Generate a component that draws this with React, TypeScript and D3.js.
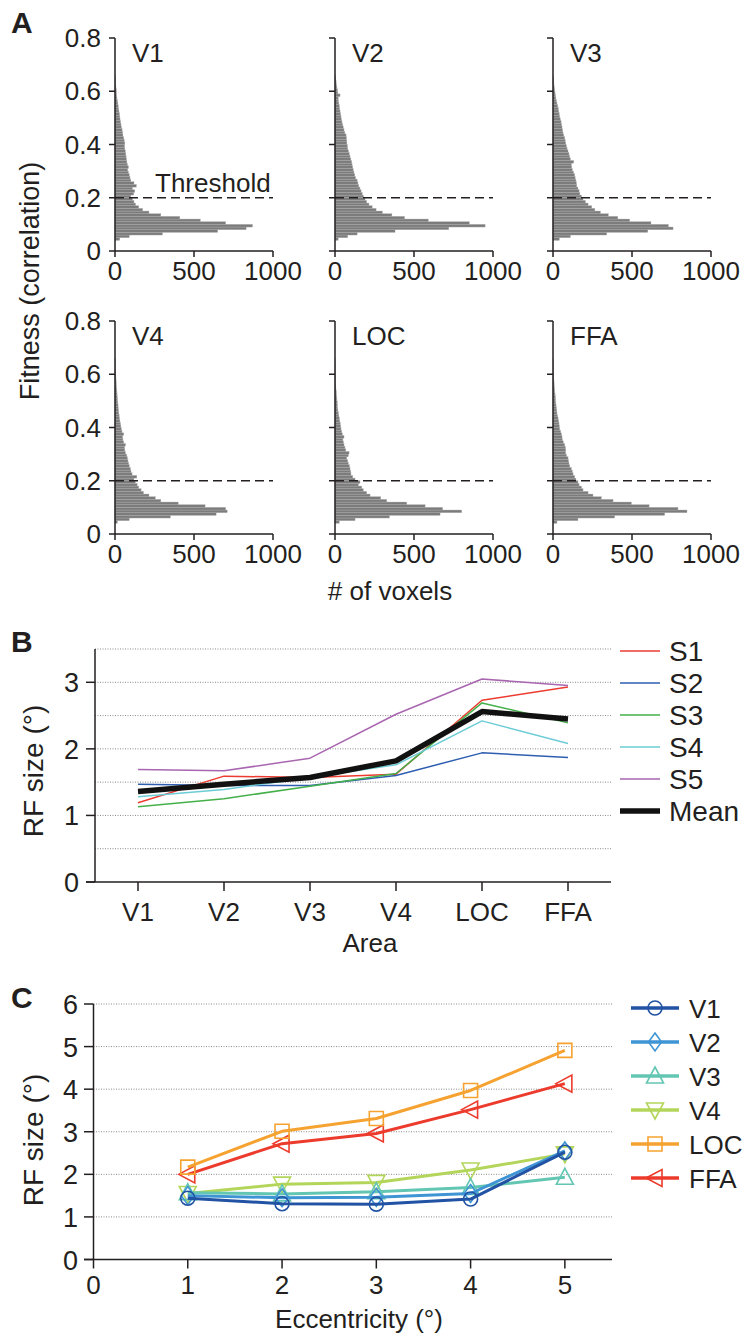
import React from "react";
import * as d3 from "d3";

const W = 744;
const H = 1335;
const FONT = "'Liberation Sans', Arial, Helvetica, sans-serif";
const INK = "#231f20";

// ---- panel A: fitness histograms (bins of 0.01 starting at 0.04) ----
const BIN_LO = 0.04;
const BIN_W = 0.01;

const V1_COUNTS = [
  30, 90, 300, 650, 830, 870, 700, 540, 410, 290, 215, 175, 150, 130, 120, 110,
  100, 118, 125, 110, 135, 120, 100, 95, 90, 85, 80, 85, 78, 75, 72, 70, 68, 65,
  62, 60, 62, 58, 55, 50, 48, 45, 40, 38, 35, 32, 30, 28, 25, 22, 20, 18, 15, 12,
  10, 9, 8, 6, 5, 4, 3, 2,
];
const V2_COUNTS = [
  20, 80, 140, 380, 720, 950, 850, 590, 440, 360, 300, 260, 235, 215, 200, 190,
  180, 172, 165, 158, 150, 145, 140, 130, 125, 120, 115, 112, 108, 105, 100, 95,
  90, 85, 80, 78, 75, 74, 72, 70, 62, 57, 52, 48, 44, 40, 38, 35, 32, 29, 27, 24,
  21, 20, 32, 18, 15, 12, 9, 7, 5, 3,
];
const V3_COUNTS = [
  40, 110, 340, 600, 760, 730, 620, 485, 410, 350, 300, 265, 245, 222, 205, 190,
  180, 170, 165, 158, 150, 148, 145, 140, 137, 130, 122, 118, 116, 131, 110, 105,
  101, 95, 89, 84, 80, 77, 74, 68, 63, 60, 57, 54, 51, 46, 42, 39, 36, 33, 30, 25,
  21, 18, 15, 13, 11, 8, 6, 5, 4, 2,
];
const V4_COUNTS = [
  15, 90, 350, 640, 710, 700, 570, 400, 290, 255, 215, 180, 165, 150, 140, 128,
  120, 138, 108, 101, 97, 90, 86, 82, 78, 74, 66, 62, 60, 66, 55, 50, 48, 55, 44,
  40, 37, 34, 31, 28, 26, 24, 22, 20, 19, 17, 16, 14, 13, 12, 11, 9, 8, 7, 6, 5,
  5, 4, 3, 3, 2, 2,
];
const LOC_COUNTS = [
  27, 127, 344, 665, 802, 681, 570, 454, 327, 289, 222, 200, 179, 169, 148, 158,
  127, 112, 101, 99, 95, 91, 84, 80, 74, 84, 89, 68, 63, 57, 53, 50, 57, 46, 42,
  38, 36, 33, 30, 27, 24, 21, 18, 15, 15, 14, 12, 11, 9, 8, 6, 5, 4, 4, 3, 3, 2,
  2, 2, 2, 1, 1,
];
const FFA_COUNTS = [
  25, 158, 390, 707, 848, 791, 608, 496, 380, 306, 253, 222, 190, 180, 165, 158,
  145, 137, 127, 122, 116, 106, 101, 98, 95, 85, 80, 80, 78, 74, 65, 59, 57, 53,
  48, 42, 40, 38, 35, 32, 28, 25, 23, 21, 19, 17, 16, 15, 13, 11, 10, 8, 7, 6, 5,
  4, 4, 3, 3, 2, 2, 1,
];
const HIST_LABELS = ["V1", "V2", "V3", "V4", "LOC", "FFA"];
const HIST_COUNTS = [V1_COUNTS, V2_COUNTS, V3_COUNTS, V4_COUNTS, LOC_COUNTS, FFA_COUNTS];
const FIT_TICKS = [0, 0.2, 0.4, 0.6, 0.8];
const FIT_TICK_LABELS = ["0", "0.2", "0.4", "0.6", "0.8"];
const VOXEL_TICKS = [0, 500, 1000];
const THRESHOLD = 0.2;

// ---- panel B: RF size by area ----
const AREAS = ["V1", "V2", "V3", "V4", "LOC", "FFA"];
const S1 = [1.19, 1.59, 1.57, 1.62, 2.73, 2.93];
const S2 = [1.47, 1.45, 1.45, 1.6, 1.94, 1.87];
const S3 = [1.13, 1.25, 1.44, 1.63, 2.69, 2.39];
const S4 = [1.28, 1.39, 1.57, 1.76, 2.42, 2.08];
const S5 = [1.69, 1.67, 1.86, 2.52, 3.05, 2.95];
const MEAN = [1.36, 1.47, 1.57, 1.82, 2.56, 2.45];
const SUBJECT_NAMES = ["S1", "S2", "S3", "S4", "S5", "Mean"];
const SUBJECT_VALUES = [S1, S2, S3, S4, S5, MEAN];
const SUBJECT_COLORS = ["#ec3b30", "#2e5eb0", "#44b04a", "#6cccd6", "#a966b0", "#111111"];
const B_TICKS = [0, 1, 2, 3];
const B_GRID = [0.5, 1, 1.5, 2, 2.5, 3, 3.5];

// ---- panel C: RF size by eccentricity ----
const ECC = [1, 2, 3, 4, 5];
const C_V1 = [1.44, 1.31, 1.3, 1.42, 2.52];
const C_V2 = [1.5, 1.45, 1.46, 1.55, 2.55];
const C_V3 = [1.57, 1.54, 1.59, 1.69, 1.93];
const C_V4 = [1.55, 1.77, 1.81, 2.1, 2.48];
const C_LOC = [2.17, 3.01, 3.31, 3.97, 4.91];
const C_FFA = [2.0, 2.72, 2.96, 3.52, 4.13];
const C_NAMES = ["V1", "V2", "V3", "V4", "LOC", "FFA"];
const C_VALUES = [C_V1, C_V2, C_V3, C_V4, C_LOC, C_FFA];
const C_COLORS = ["#2152a3", "#3f95d4", "#63c6b2", "#b3d65a", "#f6a230", "#ec3b2c"];
const C_MARKERS = ["circle", "diamond", "up", "down", "square", "left"];
const C_XTICKS = [0, 1, 2, 3, 4, 5];
const C_YTICKS = [0, 1, 2, 3, 4, 5, 6];
const C_GRID = [1, 2, 3, 4, 5, 6];

function markerPath(kind: string) {
  switch (kind) {
    case "circle":
      return "M7,0A7,7 0 1,1 -7,0A7,7 0 1,1 7,0Z";
    case "diamond":
      return "M0,-9L6.5,0L0,9L-6.5,0Z";
    case "up":
      return "M0,-9L8.5,7L-8.5,7Z";
    case "down":
      return "M0,9L8.5,-7L-8.5,-7Z";
    case "square":
      return "M-7,-7H7V7H-7Z";
    default:
      return "M-9,0L7,-8.5L7,8.5Z";
  }
}

function Hist({ x0, y0, counts, label, showYLabels, showThreshold }: any) {
  const x = d3.scaleLinear().domain([0, 1000]).range([x0, x0 + 158]);
  const y = d3.scaleLinear().domain([0, 0.8]).range([y0, y0 - 213]);
  return (
    <g>
      {counts.map((c: number, i: number) => {
        const lo = BIN_LO + i * BIN_W;
        return (
          <rect
            key={i}
            x={x(0)}
            y={y(lo + BIN_W)}
            width={x(c) - x(0)}
            height={y(lo) - y(lo + BIN_W)}
            fill="#7c7c7c"
            stroke="#ababab"
            strokeWidth={0.4}
          />
        );
      })}
      <line
        x1={x(0)}
        x2={x(1000)}
        y1={y(THRESHOLD)}
        y2={y(THRESHOLD)}
        stroke={INK}
        strokeWidth={1.6}
        strokeDasharray="9,5"
      />
      <line x1={x(0)} x2={x(0)} y1={y(0)} y2={y(0.8)} stroke={INK} strokeWidth={1.5} />
      <line x1={x(0)} x2={x(1000)} y1={y(0)} y2={y(0)} stroke={INK} strokeWidth={1.5} />
      {FIT_TICKS.map((t, i) => (
        <g key={t}>
          <line x1={x(0) - 6} x2={x(0)} y1={y(t)} y2={y(t)} stroke={INK} strokeWidth={1.5} />
          {showYLabels && (
            <text x={x(0) - 14} y={y(t) + 9} textAnchor="end" fontSize={26}>
              {FIT_TICK_LABELS[i]}
            </text>
          )}
        </g>
      ))}
      {VOXEL_TICKS.map((t) => (
        <g key={t}>
          <line x1={x(t)} x2={x(t)} y1={y(0)} y2={y(0) + 6} stroke={INK} strokeWidth={1.5} />
          <text x={x(t)} y={y(0) + 29} textAnchor="middle" fontSize={26}>
            {t}
          </text>
        </g>
      ))}
      <text x={x(0) + 17} y={y(0.8) + 24} fontSize={26}>
        {label}
      </text>
      {showThreshold && (
        <text x={x(0) + 40} y={y(THRESHOLD) - 6} fontSize={26}>
          Threshold
        </text>
      )}
    </g>
  );
}

export default function App() {
  const histX0 = [115, 335, 553];
  const histY0 = [251, 534];

  // panel B scales
  const xB = d3.scalePoint<string>().domain(AREAS).range([95, 611]).padding(0.5);
  const yB = d3.scaleLinear().domain([0, 3.5]).range([882, 649]);
  const lineB = d3
    .line<number>()
    .x((_, i) => xB(AREAS[i]) as number)
    .y((d) => yB(d));

  // panel C scales
  const xC = d3.scaleLinear().domain([0, 5.5]).range([93.5, 612]);
  const yC = d3.scaleLinear().domain([0, 6]).range([1259.5, 1004]);
  const lineC = d3
    .line<number>()
    .x((_, i) => xC(ECC[i]))
    .y((d) => yC(d));

  return (
    <svg
      width={W}
      height={H}
      style={{ position: "absolute", left: 0, top: 0, background: "#fff" }}
      fontFamily={FONT}
      fill={INK}
    >
      {/* ---------- A ---------- */}
      <text x={11} y={33} fontSize={30} fontWeight="bold">A</text>
      {HIST_COUNTS.map((counts, i) => (
        <Hist
          key={i}
          x0={histX0[i % 3]}
          y0={histY0[Math.floor(i / 3)]}
          counts={counts}
          label={HIST_LABELS[i]}
          showYLabels={i % 3 === 0}
          showThreshold={i === 0}
        />
      ))}
      <text transform="translate(39,281) rotate(-90)" textAnchor="middle" fontSize={27}>
        Fitness (correlation)
      </text>
      <text x={390} y={600} textAnchor="middle" fontSize={26}>
        # of voxels
      </text>

      {/* ---------- B ---------- */}
      <text x={11} y={652} fontSize={30} fontWeight="bold">B</text>
      {B_GRID.map((g) => (
        <line
          key={g}
          x1={95}
          x2={611}
          y1={yB(g)}
          y2={yB(g)}
          stroke="#8a8a8a"
          strokeWidth={1}
          strokeDasharray="1,1.5"
        />
      ))}
      <line x1={95} x2={95} y1={yB(0)} y2={yB(3.5)} stroke={INK} strokeWidth={1.5} />
      <line x1={86} x2={611} y1={yB(0)} y2={yB(0)} stroke={INK} strokeWidth={1.5} />
      {B_TICKS.map((t) => (
        <g key={t}>
          <line x1={86} x2={95} y1={yB(t)} y2={yB(t)} stroke={INK} strokeWidth={1.5} />
          <text x={79} y={yB(t) + 10} textAnchor="end" fontSize={27}>
            {t}
          </text>
        </g>
      ))}
      {AREAS.map((a) => (
        <g key={a}>
          <line
            x1={xB(a)}
            x2={xB(a)}
            y1={yB(0)}
            y2={yB(0) + 9}
            stroke={INK}
            strokeWidth={1.5}
          />
          <text x={xB(a)} y={921} textAnchor="middle" fontSize={26}>
            {a}
          </text>
        </g>
      ))}
      <text x={370} y={952} textAnchor="middle" fontSize={26}>
        Area
      </text>
      <text transform="translate(43,771) rotate(-90)" textAnchor="middle" fontSize={28}>
        RF size (°)
      </text>
      {SUBJECT_VALUES.map((vals, i) => (
        <path
          key={i}
          d={lineB(vals) as string}
          fill="none"
          stroke={SUBJECT_COLORS[i]}
          strokeWidth={i === 5 ? 5.5 : 1.5}
          strokeLinejoin="round"
        />
      ))}
      {SUBJECT_NAMES.map((n, i) => {
        const yy = 651 + i * 32;
        return (
          <g key={n}>
            <line
              x1={620}
              x2={660}
              y1={yy}
              y2={yy}
              stroke={SUBJECT_COLORS[i]}
              strokeWidth={i === 5 ? 5.5 : 1.5}
            />
            <text x={669} y={yy + 10} fontSize={28}>
              {n}
            </text>
          </g>
        );
      })}

      {/* ---------- C ---------- */}
      <text x={11} y={1008} fontSize={30} fontWeight="bold">C</text>
      {C_GRID.map((g) => (
        <line
          key={g}
          x1={xC(0)}
          x2={612}
          y1={yC(g)}
          y2={yC(g)}
          stroke="#8a8a8a"
          strokeWidth={1}
          strokeDasharray="1,1.5"
        />
      ))}
      <line x1={xC(0)} x2={xC(0)} y1={yC(0)} y2={yC(6)} stroke={INK} strokeWidth={1.5} />
      <line x1={84} x2={612} y1={yC(0)} y2={yC(0)} stroke={INK} strokeWidth={1.5} />
      {C_YTICKS.map((t) => (
        <g key={t}>
          <line x1={84} x2={xC(0)} y1={yC(t)} y2={yC(t)} stroke={INK} strokeWidth={1.5} />
          <text x={78} y={yC(t) + 10} textAnchor="end" fontSize={27}>
            {t}
          </text>
        </g>
      ))}
      {C_XTICKS.map((t) => (
        <g key={t}>
          <line x1={xC(t)} x2={xC(t)} y1={yC(0)} y2={yC(0) + 9} stroke={INK} strokeWidth={1.5} />
          <text x={xC(t)} y={1294} textAnchor="middle" fontSize={26}>
            {t}
          </text>
        </g>
      ))}
      <text x={359} y={1328} textAnchor="middle" fontSize={26}>
        Eccentricity (°)
      </text>
      <text transform="translate(43,1140) rotate(-90)" textAnchor="middle" fontSize={28}>
        RF size (°)
      </text>
      {C_VALUES.map((_, k) => {
        const i = C_VALUES.length - 1 - k;
        const vals = C_VALUES[i];
        return (
          <g key={i}>
            <path
              d={lineC(vals) as string}
              fill="none"
              stroke={C_COLORS[i]}
              strokeWidth={3}
              strokeLinejoin="round"
            />
            {vals.map((v, j) => (
              <path
                key={j}
                transform={`translate(${xC(ECC[j])},${yC(v)})`}
                d={markerPath(C_MARKERS[i])}
                fill="none"
                stroke={C_COLORS[i]}
                strokeWidth={1.6}
              />
            ))}
          </g>
        );
      })}
      {C_NAMES.map((n, i) => {
        const yy = 1008 + i * 34;
        return (
          <g key={n}>
            <line x1={631} x2={679} y1={yy} y2={yy} stroke={C_COLORS[i]} strokeWidth={3.5} />
            <path
              transform={`translate(655,${yy})`}
              d={markerPath(C_MARKERS[i])}
              fill="none"
              stroke={C_COLORS[i]}
              strokeWidth={1.6}
            />
            <text x={689} y={yy + 10} fontSize={26}>
              {n}
            </text>
          </g>
        );
      })}
    </svg>
  );
}
